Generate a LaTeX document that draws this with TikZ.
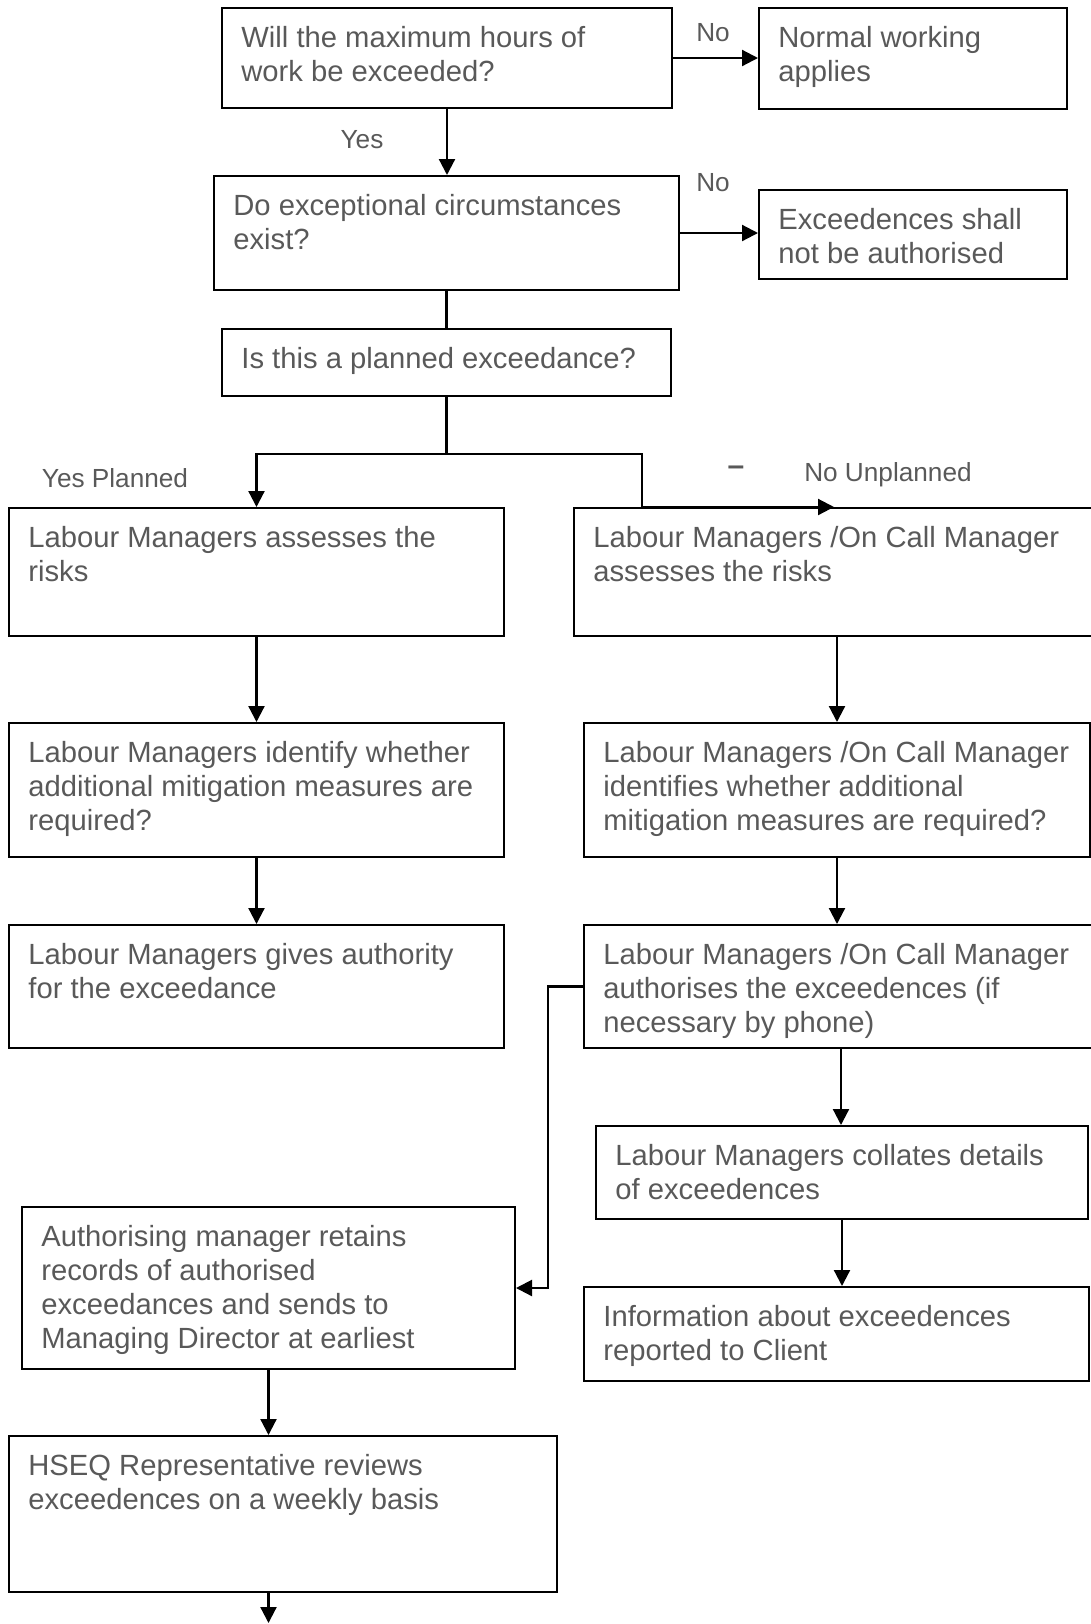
\documentclass[tikz,border=0pt]{standalone}
\usepackage{fontspec}
\setmainfont{Liberation Sans}
\usetikzlibrary{arrows.meta, fit, calc}
\definecolor{txtgray}{HTML}{595959}

\tikzset{
  box/.style={draw, line width=1pt, inner sep=0pt},
  txt/.style={anchor=north west, align=left, text=txtgray, inner xsep=10pt, inner ysep=9.4pt,
    font=\fontsize{14.6}{17.1}\selectfont},
  lbl/.style={text=txtgray, inner sep=0pt, font=\fontsize{13.1}{15}\selectfont},
  conn/.style={line width=1.1pt},
  arr/.style={line width=1.1pt, -{Triangle[length=8pt,width=8pt]}},
}

\begin{document}
\begin{tikzpicture}[x=0.5pt,y=-0.5pt]
\useasboundingbox (0,0) rectangle (1091,1624);
\clip (0,0) rectangle (1091,1624);

% questions at the top
\node[box, fit={(222,8) (672,108)}] (B1) {};
\node[txt] (B1t) at (B1.north west) {Will the maximum hours of\\work be exceeded?};
\node[box, fit={(759,8) (1067,109)}] (NW) {};
\node[txt] (NWt) at (NW.north west) {Normal working\\applies};
\node[box, fit={(214,176) (679,290)}] (B2) {};
\node[txt] (B2t) at (B2.north west) {Do exceptional circumstances\\exist?};
\node[box, fit={(759,190) (1067,279)}] (EX) {};
\node[txt] (EXt) at (EX.north west) {Exceedences shall\\not be authorised};
\node[box, fit={(222,329) (671,396)}] (B3) {};
\node[txt] (B3t) at (B3.north west) {Is this a planned exceedance?};

% planned branch
\node[box, fit={(9,508) (504,636)}] (L1) {};
\node[txt] (L1t) at (L1.north west) {Labour Managers assesses the\\risks};
\node[box, fit={(9,723) (504,857)}] (L2) {};
\node[txt] (L2t) at (L2.north west) {Labour Managers identify whether\\additional mitigation measures are\\required?};
\node[box, fit={(9,925) (504,1048)}] (L3) {};
\node[txt] (L3t) at (L3.north west) {Labour Managers gives authority\\for the exceedance};

% unplanned branch
\node[box, fit={(574,508) (1100,636)}] (R1) {};
\node[txt] (R1t) at (R1.north west) {Labour Managers /On Call Manager\\assesses the risks};
\node[box, fit={(584,723) (1090,857)}] (R2) {};
\node[txt] (R2t) at (R2.north west) {Labour Managers /On Call Manager\\identifies whether additional\\mitigation measures are required?};
\node[box, fit={(584,925) (1098,1048)}] (R3) {};
\node[txt] (R3t) at (R3.north west) {Labour Managers /On Call Manager\\authorises the exceedences (if\\necessary by phone)};
\node[box, fit={(596,1126) (1088,1219)}] (R4) {};
\node[txt] (R4t) at (R4.north west) {Labour Managers collates details\\of exceedences};
\node[box, fit={(584,1287) (1089,1381)}] (R5) {};
\node[txt] (R5t) at (R5.north west) {Information about exceedences\\reported to Client};

% records
\node[box, fit={(22,1207) (515,1369)}] (AM) {};
\node[txt] (AMt) at (AM.north west) {Authorising manager retains\\records of authorised\\exceedances and sends to\\Managing Director at earliest};
\node[box, fit={(9,1436) (557,1592)}] (HS) {};
\node[txt] (HSt) at (HS.north west) {HSEQ Representative reviews\\exceedences on a weekly basis};

% labels
\node[lbl] (no1) at (713,33) {No};
\node[lbl] (yes1) at (362,140) {Yes};
\node[lbl] (no2) at (713,183) {No};
\node[lbl] (yesp) at (115,478) {Yes Planned};
\node[lbl, font=\fontsize{15}{15}\bfseries] (dash) at (736,471) {--};
\node[lbl] (nou) at (888,475) {No Unplanned};

% connectors
\draw[arr] (B1.east) -- (B1.east -| NW.west);
\draw[arr] (B1.south) -- (B1.south |- B2.north);
\draw[arr] (B2.east) -- (B2.east -| EX.west);
\draw[conn] (B2.south) -- (B2.south |- B3.north);
\coordinate (jn) at ($(B3.south)+(0,57)$);
\draw[arr] (B3.south) -- (jn) -| (L1.north);
\draw[arr] (jn) -| ($(R1.north west)+(69,0)$) -- ($(R1.north)+(-3,0)$);
\draw[arr] (L1.south) -- (L2.north);
\draw[arr] (L2.south) -- (L3.north);
\draw[arr] (R1.south) -- (R1.south |- R2.north);
\draw[arr] (R2.south) -- (R2.south |- R3.north);
\draw[arr] (R3.south) -- (R3.south |- R4.north);
\draw[arr] (R4.south) -- (R4.south |- R5.north);
\draw[arr] (R3.west) -- ++(-35,0) |- (AM.east);
\draw[arr] (AM.south) -- (AM.south |- HS.north);
\coordinate (endpt) at (268.5,1623);
\draw[arr] (AM.south |- HS.south) -- (endpt);
\end{tikzpicture}
\end{document}
